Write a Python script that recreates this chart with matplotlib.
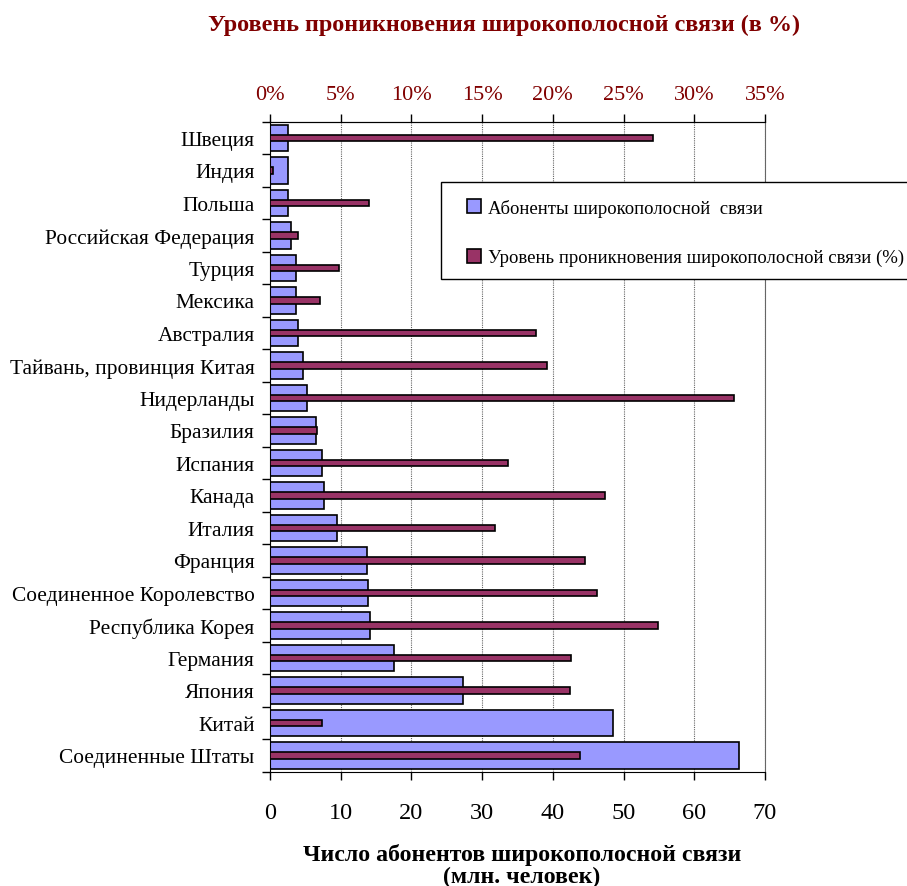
import numpy as np
import matplotlib.pyplot as plt
from matplotlib.patches import Patch, Rectangle

plt.rcParams['font.family'] = ['Liberation Serif', 'DejaVu Serif']

# Countries, top to bottom as in the picture
countries = ['Швеция', 'Индия', 'Польша', 'Российская Федерация', 'Турция',
             'Мексика', 'Австралия', 'Тайвань, провинция Китая', 'Нидерланды',
             'Бразилия', 'Испания', 'Канада', 'Италия', 'Франция',
             'Соединенное Королевство', 'Республика Корея', 'Германия',
             'Япония', 'Китай', 'Соединенные Штаты']

# Broadband subscribers, million people
subscribers = [2.6, 2.6, 2.6, 3.0, 3.7, 3.7, 4.0, 4.7, 5.3, 6.5,
               7.4, 7.6, 9.5, 13.7, 13.9, 14.1, 17.6, 27.3, 48.5, 66.3]

# Broadband penetration, %
penetration = [27.1, 0.24, 7.0, 2.0, 4.9, 3.5, 18.8, 19.6, 32.8, 3.35,
               16.8, 23.7, 15.9, 22.3, 23.1, 27.4, 21.3, 21.2, 3.7, 21.9]

bottom_ticks = [0, 10, 20, 30, 40, 50, 60, 70]
top_ticks = [0, 5, 10, 15, 20, 25, 30, 35]

blue = '#9999FF'
plum = '#993366'
darkred = '#800000'

fig = plt.figure(figsize=(9.07, 8.87), dpi=100)
ax = fig.add_axes([270 / 907, 1 - 772.7 / 887, 495 / 907, 650 / 887])

n = len(countries)
y = np.arange(n)

ax.barh(y, subscribers, height=0.82, color=blue, edgecolor='black',
        linewidth=1.2, zorder=2)

ax2 = ax.twiny()
ax2.barh(y, penetration, height=0.2, color=plum, edgecolor='black',
         linewidth=1.2, zorder=3)

ax.set_ylim(n - 0.5, -0.5)
ax.set_xlim(0, 70)
ax2.set_xlim(0, 35)

ax.set_yticks(np.arange(n + 1) - 0.5)
ax.set_yticklabels([])
ax.set_yticks(y, minor=True)
ax.set_yticklabels(countries, minor=True, fontsize=15.4)
ax.tick_params(axis='y', which='minor', length=0, pad=11)
ax.tick_params(axis='y', which='major', length=6, width=1, direction='out')

ax.set_xticks(bottom_ticks)
ax.set_xticklabels([str(t) for t in bottom_ticks], fontsize=17.5)
ax.tick_params(axis='x', length=6, width=1, direction='out', pad=16)

ax2.set_xticks(top_ticks)
ax2.set_xticklabels([f'{t}%' for t in top_ticks], fontsize=16, color=darkred)
ax2.tick_params(axis='x', length=6, width=1, direction='out', pad=7)

ax.xaxis.grid(True, color='#666666', linestyle=(0, (1, 1)), linewidth=0.8, zorder=0)
ax.set_axisbelow(True)

ax.spines['right'].set_color('#666666')
ax.spines['right'].set_linestyle((0, (1, 1)))
ax.spines['right'].set_linewidth(0.8)
ax2.spines['right'].set_visible(False)
ax2.spines['bottom'].set_visible(False)
ax2.spines['left'].set_visible(False)

fig.text(504 / 907, 1 - 25 / 887, 'Уровень проникновения широкополосной связи (в %)',
         ha='center', va='center', fontsize=17.4, fontweight='bold', color=darkred)
fig.text(522 / 907, 1 - 855 / 887, 'Число абонентов широкополосной связи',
         ha='center', va='center', fontsize=17.2, fontweight='bold')
fig.text(522 / 907, 1 - 877 / 887, '(млн. человек)',
         ha='center', va='center', fontsize=17.2, fontweight='bold')

# legend box runs off the right edge of the picture
box = Rectangle((441 / 907, 1 - 280 / 887), 480 / 907, 97 / 887,
                transform=fig.transFigure, facecolor='white', edgecolor='black',
                linewidth=1.0, zorder=9)
fig.patches.append(box)

handles = [Patch(facecolor=blue, edgecolor='black', linewidth=1.2),
           Patch(facecolor=plum, edgecolor='black', linewidth=1.2)]
labels = ['Абоненты широкополосной  связи',
          'Уровень проникновения широкополосной связи (%)']
leg = fig.legend(handles, labels, loc='upper left',
                 bbox_to_anchor=(450 / 907, 1 - 183 / 887), fontsize=13.5,
                 frameon=False, labelspacing=1.71, borderpad=0.9,
                 handlelength=0.75, handleheight=0.75, handletextpad=0.4,
                 borderaxespad=0)
leg.set_zorder(10)

fig.savefig('out.png', dpi=100)
